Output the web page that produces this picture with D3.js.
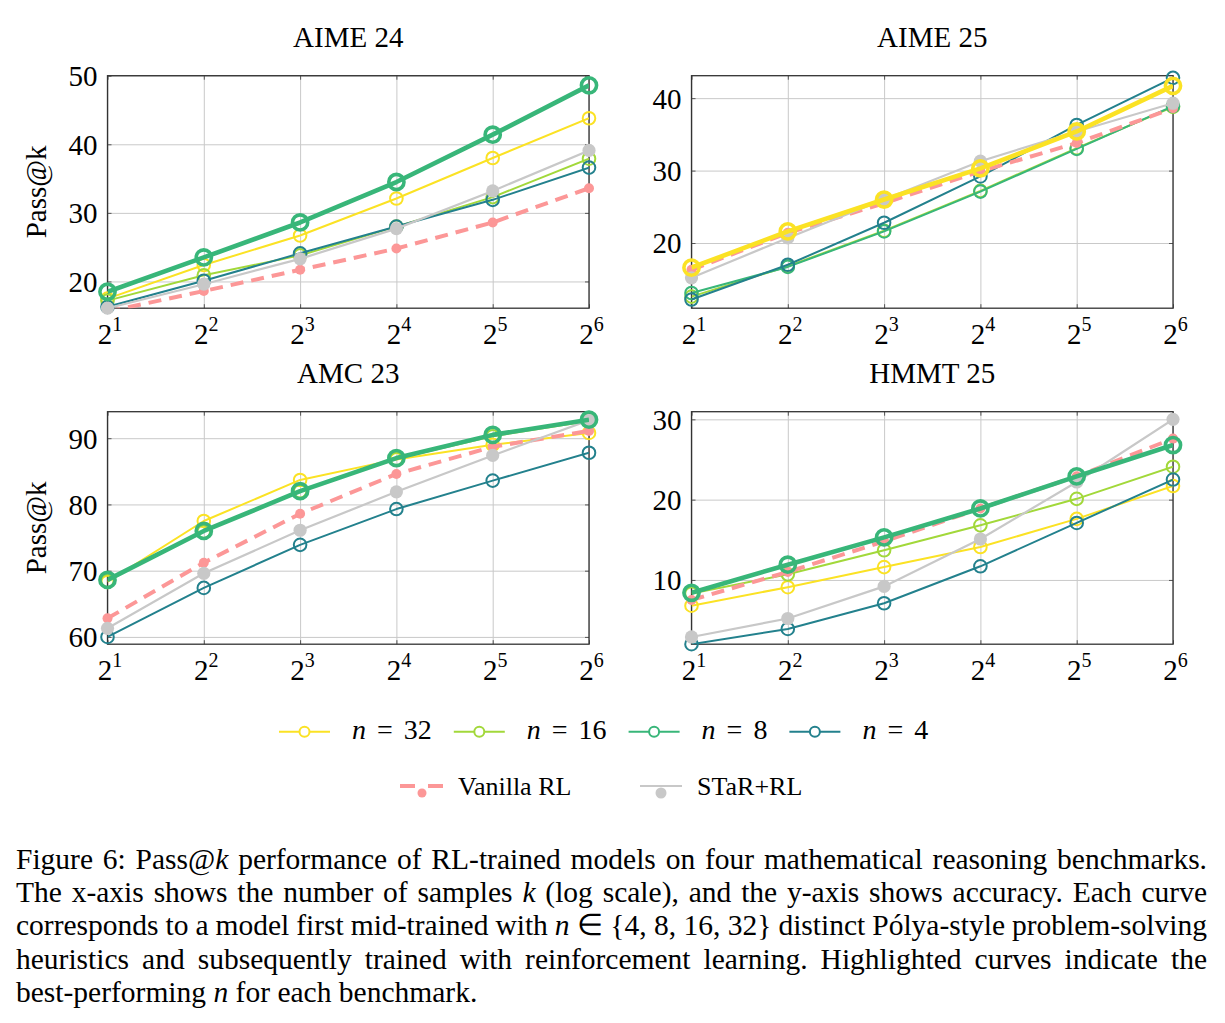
<!DOCTYPE html>
<meta charset="utf-8">
<style>
body{ margin:0; background:#fff; }
svg text{ font-family:"Liberation Serif","Times New Roman",serif; fill:#000; }
.grid line{ stroke:#c9c9c9; stroke-width:1; }
.tk line{ stroke:#555; stroke-width:1; }
</style>
<svg width="1225" height="1023"></svg>
<script src="https://d3js.org/d3.v7.min.js"></script>
<script>

// ---- data ----
var ks = [2, 4, 8, 16, 32, 64];
var titles = ["AIME 24", "AIME 25", "AMC 23", "HMMT 25"];
var yDomains = [[16.1, 50], [11.0, 43.1], [58.9, 94.0], [2.0, 30.95]];
var yTicks = [[20, 30, 40, 50], [20, 30, 40], [60, 70, 80, 90], [10, 20, 30]];
var best = ["n8", "n32", "n8", "n8"];

var aime24_n32 = [17.5, 22.4, 26.7, 32.1, 38.0, 43.8];
var aime24_n16 = [17.2, 20.9, 23.8, 28.0, 32.3, 37.9];
var aime24_n8 = [18.5, 23.5, 28.6, 34.5, 41.4, 48.6];
var aime24_n4 = [16.3, 20.1, 24.1, 28.0, 31.9, 36.6];
var aime24_vanilla = [15.6, 18.6, 21.7, 24.8, 28.6, 33.6];
var aime24_star = [16.1, 19.6, 23.3, 27.7, 33.2, 39.1];

var aime25_n32 = [16.6, 21.6, 26.0, 30.3, 35.4, 41.7];
var aime25_n16 = [12.6, 16.8, 21.7, 27.2, 33.1, 38.8];
var aime25_n8 = [13.1, 16.7, 21.6, 27.1, 33.0, 38.9];
var aime25_n4 = [12.2, 17.0, 22.8, 29.2, 36.3, 42.8];
var aime25_vanilla = [16.3, 21.4, 25.5, 29.9, 33.8, 38.6];
var aime25_star = [15.2, 20.7, 26.0, 31.3, 35.4, 39.3];

var amc23_n32 = [68.3, 77.5, 83.7, 86.8, 89.0, 90.8];
var amc23_n16 = [68.5, 75.9, 82.0, 86.9, 90.3, 92.6];
var amc23_n8 = [68.6, 76.0, 82.0, 87.0, 90.5, 92.8];
var amc23_n4 = [60.0, 67.4, 73.9, 79.3, 83.6, 87.8];
var amc23_vanilla = [62.8, 71.2, 78.6, 84.6, 88.7, 91.1];
var amc23_star = [61.3, 69.6, 76.1, 81.9, 87.4, 92.7];

var hmmt25_n32 = [6.8, 9.1, 11.6, 14.1, 17.6, 21.7];
var hmmt25_n16 = [8.3, 10.7, 13.7, 16.8, 20.1, 24.1];
var hmmt25_n8 = [8.4, 11.9, 15.3, 18.9, 22.9, 26.8];
var hmmt25_n4 = [2.0, 3.9, 7.1, 11.7, 17.1, 22.5];
var hmmt25_vanilla = [7.5, 11.0, 14.8, 18.9, 22.9, 27.6];
var hmmt25_star = [2.9, 5.2, 9.2, 15.1, 22.2, 30.0];

var nKeys = ["n32", "n16", "n8", "n4"];
var nLabels = ["32", "16", "8", "4"];
var nColors = ["#fbe224", "#a2d83a", "#38b679", "#23818d"];
var vanillaColor = "#fc9797", starColor = "#c8c8c8";

var panelData = [
  {n32: aime24_n32, n16: aime24_n16, n8: aime24_n8, n4: aime24_n4, vanilla: aime24_vanilla, star: aime24_star},
  {n32: aime25_n32, n16: aime25_n16, n8: aime25_n8, n4: aime25_n4, vanilla: aime25_vanilla, star: aime25_star},
  {n32: amc23_n32, n16: amc23_n16, n8: amc23_n8, n4: amc23_n4, vanilla: amc23_vanilla, star: amc23_star},
  {n32: hmmt25_n32, n16: hmmt25_n16, n8: hmmt25_n8, n4: hmmt25_n4, vanilla: hmmt25_vanilla, star: hmmt25_star}
];

// ---- layout ----
var FONT = '"Liberation Serif","Times New Roman",serif';
var svg = d3.select("svg");
var W = 481.5, H = 232.5;
var origins = [[107.5, 75.7], [691.5, 75.7], [107.5, 411.7], [691.5, 411.7]];

function pts(vals) { return vals.map(function(v, i) { return {k: ks[i], v: v}; }); }

function drawPanel(i) {
  var o = origins[i];
  var g = svg.append("g").attr("transform", "translate(" + o[0] + "," + o[1] + ")");
  var x = d3.scaleLog().base(2).domain([2, 64]).range([0, W]);
  var y = d3.scaleLinear().domain(yDomains[i]).range([H, 0]);

  // grid
  g.append("g").attr("class", "grid").attr("transform", "translate(0," + H + ")")
    .call(d3.axisBottom(x).tickValues(ks).tickSize(-H).tickFormat(""))
    .call(function(s) { s.select(".domain").remove(); });
  g.append("g").attr("class", "grid")
    .call(d3.axisLeft(y).tickValues(yTicks[i]).tickSize(-W).tickFormat(""))
    .call(function(s) { s.select(".domain").remove(); });

  // small inner tick marks
  g.append("g").attr("class", "tk").attr("transform", "translate(0," + H + ")")
    .call(d3.axisBottom(x).tickValues(ks).tickSize(-4).tickFormat("")).select(".domain").remove();
  g.append("g").attr("class", "tk")
    .call(d3.axisTop(x).tickValues(ks).tickSize(-4).tickFormat("")).select(".domain").remove();
  g.append("g").attr("class", "tk")
    .call(d3.axisLeft(y).tickValues(yTicks[i]).tickSize(-4).tickFormat("")).select(".domain").remove();
  g.append("g").attr("class", "tk").attr("transform", "translate(" + W + ",0)")
    .call(d3.axisRight(y).tickValues(yTicks[i]).tickSize(-4).tickFormat("")).select(".domain").remove();

  g.append("rect").attr("width", W).attr("height", H)
    .attr("fill", "none").attr("stroke", "#333").attr("stroke-width", 1.3);

  g.append("clipPath").attr("id", "clip" + i).append("rect").attr("width", W).attr("height", H);

  var line = d3.line().x(function(d) { return x(d.k); }).y(function(d) { return y(d.v); });
  var data = panelData[i];
  var inDom = function(d) { return d.v >= yDomains[i][0] - 0.01; };

  function drawN(j, hi) {
    var key = nKeys[j], c = nColors[j];
    var p = pts(data[key]);
    g.append("path").datum(p).attr("d", line).attr("clip-path", "url(#clip" + i + ")")
      .attr("fill", "none").attr("stroke", c).attr("stroke-width", hi ? 4.6 : 2)
      .attr("stroke-linejoin", "round");
    g.selectAll(null).data(p.filter(inDom)).enter().append("circle")
      .attr("cx", function(d) { return x(d.k); }).attr("cy", function(d) { return y(d.v); })
      .attr("r", hi ? 7.6 : 6.3).attr("fill", "none").attr("stroke", c)
      .attr("stroke-width", hi ? 3.6 : 2);
  }

  nKeys.forEach(function(key, j) { if (key !== best[i]) drawN(j, false); });

  var pv = pts(data.vanilla);
  g.append("path").datum(pv).attr("d", line).attr("clip-path", "url(#clip" + i + ")")
    .attr("fill", "none").attr("stroke", vanillaColor).attr("stroke-width", 4)
    .attr("stroke-dasharray", "13,8");
  g.selectAll(null).data(pv.filter(inDom)).enter().append("circle")
    .attr("cx", function(d) { return x(d.k); }).attr("cy", function(d) { return y(d.v); })
    .attr("r", 5).attr("fill", vanillaColor);

  var ps = pts(data.star);
  g.append("path").datum(ps).attr("d", line).attr("clip-path", "url(#clip" + i + ")")
    .attr("fill", "none").attr("stroke", starColor).attr("stroke-width", 2.2);
  g.selectAll(null).data(ps.filter(inDom)).enter().append("circle")
    .attr("cx", function(d) { return x(d.k); }).attr("cy", function(d) { return y(d.v); })
    .attr("r", 6.6).attr("fill", starColor);

  drawN(nKeys.indexOf(best[i]), true);

  // tick labels
  var xa = g.append("g").attr("transform", "translate(0," + H + ")")
    .call(d3.axisBottom(x).tickValues(ks).tickSize(0));
  xa.attr("font-family", null).attr("font-size", null);
  xa.select(".domain").remove();
  xa.selectAll("text").text(null).attr("y", 35.5).attr("dy", 0).attr("x", 2)
    .style("font-family", FONT).style("font-size", "29px")
    .each(function(d) {
      var t = d3.select(this);
      t.append("tspan").text("2");
      t.append("tspan").attr("dy", -13).style("font-size", "20px").text(Math.round(Math.log2(d)));
    });

  var ya = g.append("g")
    .call(d3.axisLeft(y).tickValues(yTicks[i]).tickSize(0).tickPadding(10));
  ya.attr("font-family", null).attr("font-size", null);
  ya.select(".domain").remove();
  ya.selectAll("text").attr("dy", "0.34em").style("font-family", FONT).style("font-size", "29px");

  g.append("text").attr("x", W / 2).attr("y", -28.5).attr("text-anchor", "middle")
    .attr("font-size", 29).text(titles[i]);

  if (i % 2 === 0) {
    g.append("text").attr("transform", "translate(" + (46 - o[0]) + "," + (H / 2) + ") rotate(-90)")
      .attr("text-anchor", "middle").attr("font-size", 29).text("Pass@k");
  }
}

for (var i = 0; i < 4; i++) drawPanel(i);

// ---- legend ----
var leg = svg.append("g");
var lx = 279, ly = 731.7;
nKeys.forEach(function(key, j) {
  var c = nColors[j];
  leg.append("line").attr("x1", lx).attr("x2", lx + 51).attr("y1", ly).attr("y2", ly)
    .attr("stroke", c).attr("stroke-width", 2);
  leg.append("circle").attr("cx", lx + 25.5).attr("cy", ly).attr("r", 5)
    .attr("fill", "#fff").attr("stroke", c).attr("stroke-width", 2);
  var t = leg.append("text").attr("x", lx + 73).attr("y", 739).attr("font-size", 28);
  t.append("tspan").attr("font-style", "italic").text("n");
  t.append("tspan").attr("dx", 11).text("=");
  t.append("tspan").attr("dx", 11).text(nLabels[j]);
  lx = lx + 73 + t.node().getComputedTextLength() + 22 + 22;
});

var ly2 = 786;
leg.append("line").attr("x1", 400).attr("x2", 443).attr("y1", ly2).attr("y2", ly2)
  .attr("stroke", vanillaColor).attr("stroke-width", 4).attr("stroke-dasharray", "15,13");
leg.append("circle").attr("cx", 422).attr("cy", 793).attr("r", 4.5).attr("fill", vanillaColor);
leg.append("text").attr("x", 458).attr("y", 795).attr("font-size", 26).text("Vanilla RL");

leg.append("line").attr("x1", 640).attr("x2", 682).attr("y1", ly2).attr("y2", ly2)
  .attr("stroke", starColor).attr("stroke-width", 2.2);
leg.append("circle").attr("cx", 661).attr("cy", 793).attr("r", 5.5).attr("fill", starColor);
leg.append("text").attr("x", 697).attr("y", 795).attr("font-size", 26).text("STaR+RL");

// ---- caption (justified) ----
function words(s) { return s.split(" ").map(function(w) { return [[w, 0]]; }); }
var capLines = [
  words("Figure 6:").concat([[["Pass@", 0], ["k", 1]]], words("performance of RL-trained models on four mathematical reasoning benchmarks.")),
  words("The x-axis shows the number of samples").concat([[["k", 1]]], words("(log scale), and the y-axis shows accuracy. Each curve")),
  words("corresponds to a model first mid-trained with").concat([[["n", 1], [" \u2208 {4, 8, 16, 32}", 0]]], words("distinct P\u00f3lya-style problem-solving")),
  words("heuristics and subsequently trained with reinforcement learning. Highlighted curves indicate the"),
  words("best-performing").concat([[["n", 1]]], words("for each benchmark."))
];

var capL = 16, capR = 1207, capY0 = 869, capDY = 33.2;
capLines.forEach(function(tokens, li) {
  var nodes = tokens.map(function(tok) {
    var t = svg.append("text").attr("y", capY0 + li * capDY).attr("font-size", 29.5);
    tok.forEach(function(seg) {
      t.append("tspan").attr("font-style", seg[1] ? "italic" : null).text(seg[0]);
    });
    return t;
  });
  var widths = nodes.map(function(t) { return t.node().getComputedTextLength(); });
  var total = d3.sum(widths);
  var gap = (li === capLines.length - 1) ? 7.4 : Math.max(4, (capR - capL - total) / (nodes.length - 1));
  var cx = capL;
  nodes.forEach(function(t, k) { t.attr("x", cx); cx += widths[k] + gap; });
});

</script>
